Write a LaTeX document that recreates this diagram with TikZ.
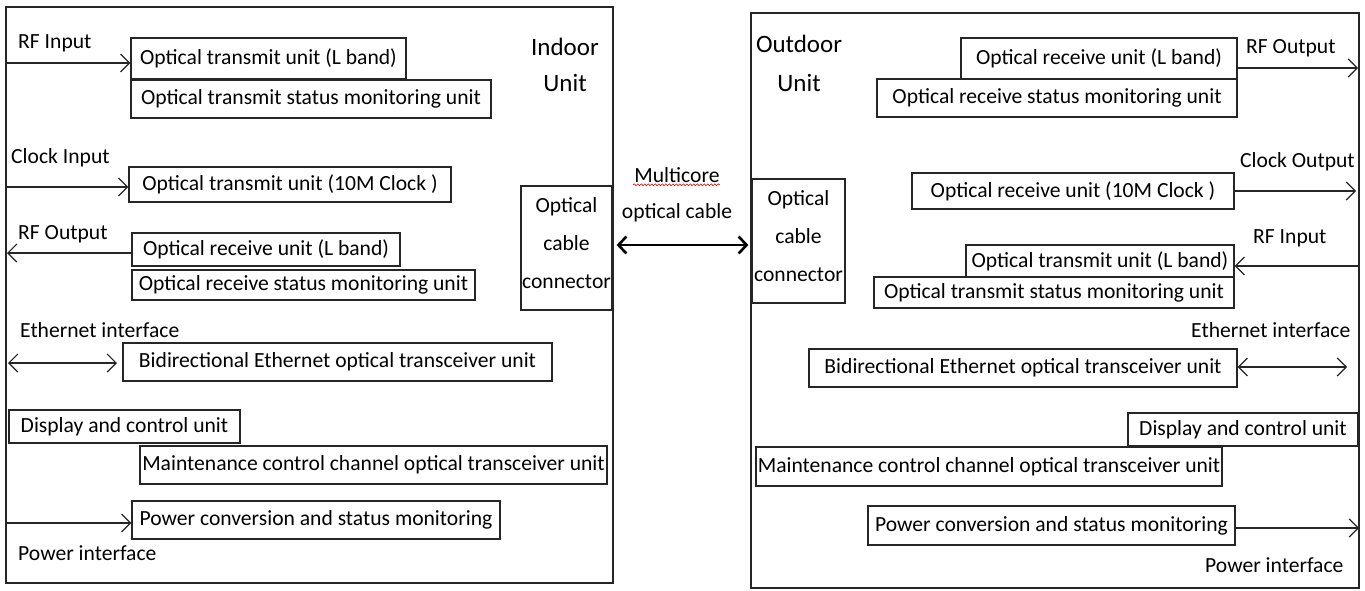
\documentclass[tikz,border=0pt]{standalone}
\usepackage{fontspec}
\setmainfont{Carlito}
\usetikzlibrary{arrows.meta,decorations.pathmorphing}
\begin{document}
\begin{tikzpicture}[x=1pt,y=-1pt,
  frame/.style={draw=black!85, line width=1.3pt, inner sep=0pt},
  unitbox/.style={draw=black!85, line width=1.2pt, inner sep=0pt, font=\fontsize{21.6}{25}\selectfont},
  conn/.style={draw=black!85, line width=1.2pt, inner sep=0pt},
  conntext/.style={inner sep=0pt, align=center, font=\fontsize{21.6}{38}\selectfont, yshift=5pt},
  lbl/.style={inner sep=0pt, font=\fontsize{21.6}{25}\selectfont},
  big/.style={inner sep=0pt, font=\fontsize{25}{30}\selectfont},
  lblc/.style={inner sep=0pt, font=\fontsize{21.6}{25}\selectfont},
  arr/.style={draw=black!85, line width=1.2pt, -{Straight Barb[length=9pt,width=18pt]}},
  darr/.style={draw=black!85, line width=1.2pt, {Straight Barb[length=9pt,width=18pt]}-{Straight Barb[length=9pt,width=18pt]}},
  cablearr/.style={draw=black, line width=2.6pt, {Straight Barb[length=8pt,width=17pt]}-{Straight Barb[length=8pt,width=17pt]}},
  spell/.style={draw=red!85!black, line width=0.6pt, decorate, decoration={snake, amplitude=0.9pt, segment length=3.5pt}}
]
\useasboundingbox (0,0) rectangle (1365,590);
\fill[white] (0,0) rectangle (1365,590);

% ---------- Indoor unit ----------
\node[frame, minimum width=607pt, minimum height=576pt] (indoor) at (309.5,295) {};
\node[big] (indoorA) at (565,47) {Indoor};
\node[big] (indoorB) at (565,83) {Unit};

\node[unitbox, minimum width=275pt, minimum height=41pt] (a1) at (268.5,58.5) {Optical transmit unit (L band)};
\node[unitbox, minimum width=360pt, minimum height=38pt] (a2) at (311,99) {Optical transmit status monitoring unit};
\node[unitbox, minimum width=322pt, minimum height=35pt] (b) at (290,184.5) {Optical transmit unit (10M Clock )};
\node[unitbox, minimum width=268pt, minimum height=33pt] (c1) at (266,249.5) {Optical receive unit (L band)};
\node[unitbox, minimum width=343pt, minimum height=30pt] (c2) at (303.5,285) {Optical receive status monitoring unit};
\node[unitbox, minimum width=429pt, minimum height=38pt] (d) at (337.5,362) {Bidirectional Ethernet optical transceiver unit};
\node[unitbox, minimum width=231pt, minimum height=33pt] (e) at (124.5,426.5) {Display and control unit};
\node[unitbox, minimum width=467pt, minimum height=38pt] (f) at (373.5,465) {Maintenance control channel optical transceiver unit};
\node[unitbox, minimum width=368pt, minimum height=38pt] (g) at (316,520) {Power conversion and status monitoring};
\node[conn, minimum width=91pt, minimum height=124pt,
  label={[conntext]center:Optical\\cable\\connector}] (lc) at (566.5,248) {};

\node[lbl, anchor=west] (lrfin) at (18,43) {RF Input};
\node[lbl, anchor=west] (lclk) at (11,158) {Clock Input};
\node[lbl, anchor=west] (lrfout) at (18,234) {RF Output};
\node[lbl, anchor=west] (leth) at (20,330) {Ethernet interface};
\node[lbl, anchor=west] (lpow) at (18,553) {Power interface};

\coordinate (p1) at (6,63);
\coordinate (p2) at (6,187);
\coordinate (p3) at (7,253);
\coordinate (p4a) at (8,363);
\coordinate (p4b) at (117,363);
\coordinate (p5) at (6,523);
\draw[arr] (p1) -- (p1 -| a1.west);
\draw[arr] (p2) -- (p2 -| b.west);
\draw[arr] (p3 -| c1.west) -- (p3);
\draw[darr] (p4a) -- (p4b);
\draw[arr] (p5) -- (p5 -| g.west);

% ---------- cable ----------
\node[lblc] (mc) at (677,175) {Multicore};
\node[lblc] (oc) at (677,213) {optical cable};
\draw[spell] ([xshift=-1pt,yshift=-2pt]mc.south west) -- ([yshift=-2pt]mc.south east);

% ---------- Outdoor unit ----------
\node[frame, minimum width=608pt, minimum height=575pt] (outdoor) at (1055,300.5) {};
\node[big] (outA) at (799,44) {Outdoor};
\node[big] (outB) at (799,83) {Unit};

\node[unitbox, minimum width=276pt, minimum height=41pt] (h1) at (1099,58.5) {Optical receive unit (L band)};
\node[unitbox, minimum width=360pt, minimum height=38pt] (h2) at (1057,98) {Optical receive status monitoring unit};
\node[unitbox, minimum width=322pt, minimum height=36pt] (i) at (1073,191) {Optical receive unit (10M Clock )};
\node[unitbox, minimum width=268pt, minimum height=32pt] (j1) at (1100,261) {Optical transmit unit (L band)};
\node[unitbox, minimum width=360pt, minimum height=31pt] (j2) at (1054,292.5) {Optical transmit status monitoring unit};
\node[unitbox, minimum width=428pt, minimum height=38pt] (k) at (1023,368) {Bidirectional Ethernet optical transceiver unit};
\node[unitbox, minimum width=230pt, minimum height=33pt] (l) at (1243,429.5) {Display and control unit};
\node[unitbox, minimum width=466pt, minimum height=39pt] (m) at (989,466.5) {Maintenance control channel optical transceiver unit};
\node[unitbox, minimum width=367pt, minimum height=39pt] (n) at (1051.5,525.5) {Power conversion and status monitoring};
\node[conn, minimum width=93pt, minimum height=124pt,
  label={[conntext]center:Optical\\cable\\connector}] (rc) at (798.5,241) {};

\node[lbl, anchor=west] (rrfout) at (1246,48) {RF Output};
\node[lbl, anchor=west] (rclk) at (1240,162) {Clock Output};
\node[lbl, anchor=west] (rrfin) at (1253,238) {RF Input};
\node[lbl, anchor=west] (reth) at (1191,330) {Ethernet interface};
\node[lbl, anchor=west] (rpow) at (1205,565) {Power interface};

\coordinate (q1) at (1358,68);
\coordinate (q2) at (1356,191);
\coordinate (q3) at (1358,266);
\coordinate (q4) at (1347,367);
\coordinate (q5) at (1359,528);
\draw[arr] (q1 -| h1.east) -- (q1);
\draw[arr] (q2 -| i.east) -- (q2);
\draw[arr] (q3) -- (q3 -| j1.east);
\draw[darr] (q4 -| k.east) -- (q4);
\draw[arr] (q5 -| n.east) -- (q5);

% ---------- multicore cable arrow ----------
\coordinate (cab) at (0,245);
\draw[cablearr, shorten <=4pt, shorten >=3pt] (lc.east |- cab) -- (rc.west |- cab);
\end{tikzpicture}
\end{document}
